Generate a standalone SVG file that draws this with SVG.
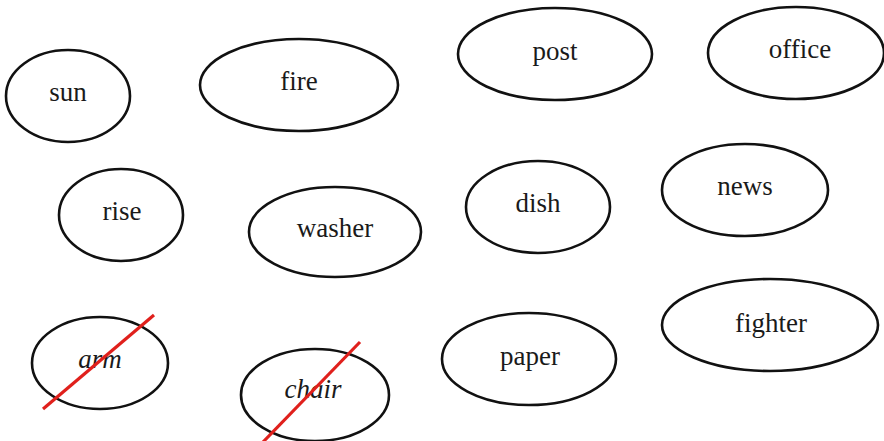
<svg xmlns="http://www.w3.org/2000/svg" width="884" height="441" viewBox="0 0 884 441">
<style>
.n ellipse{fill:none;stroke:#111;stroke-width:2.6}
.n text{font-family:'Liberation Serif','Times New Roman',serif;font-size:27px;fill:#1a1a1a;text-anchor:middle}
.n text.i{font-style:italic}
.x{stroke:#e0201c;stroke-width:3.2;stroke-linecap:butt}
</style>
<rect width="884" height="441" fill="#fff"/>
<g id="sun" class="n"><ellipse cx="68" cy="96" rx="62" ry="46"/><text x="68" y="101">sun</text></g>
<g id="fire" class="n"><ellipse cx="299" cy="85" rx="99" ry="46"/><text x="299" y="90">fire</text></g>
<g id="post" class="n"><ellipse cx="555" cy="54" rx="97" ry="46"/><text x="555" y="60">post</text></g>
<g id="office" class="n"><ellipse cx="796" cy="53" rx="88" ry="46"/><text x="800" y="58">office</text></g>
<g id="rise" class="n"><ellipse cx="121" cy="215" rx="62" ry="46"/><text x="122" y="220">rise</text></g>
<g id="washer" class="n"><ellipse cx="335" cy="232" rx="86" ry="45"/><text x="335" y="237">washer</text></g>
<g id="dish" class="n"><ellipse cx="538" cy="207" rx="72" ry="46"/><text x="538" y="212">dish</text></g>
<g id="news" class="n"><ellipse cx="745" cy="190" rx="83" ry="46"/><text x="745" y="195">news</text></g>
<g id="arm" class="n"><ellipse cx="100" cy="363" rx="68" ry="46"/><text class="i" x="100" y="368">arm</text></g>
<g id="chair" class="n"><ellipse cx="315" cy="395" rx="74" ry="46"/><text class="i" x="313" y="398">chair</text></g>
<g id="paper" class="n"><ellipse cx="529" cy="359" rx="87" ry="46"/><text x="530" y="365">paper</text></g>
<g id="fighter" class="n"><ellipse cx="770" cy="325" rx="108" ry="46"/><text x="771" y="332">fighter</text></g>
<g id="connectors">
<line class="x" x1="43" y1="409" x2="154" y2="315"/>
<line class="x" x1="263" y1="442" x2="360" y2="342"/>
</g>
</svg>
